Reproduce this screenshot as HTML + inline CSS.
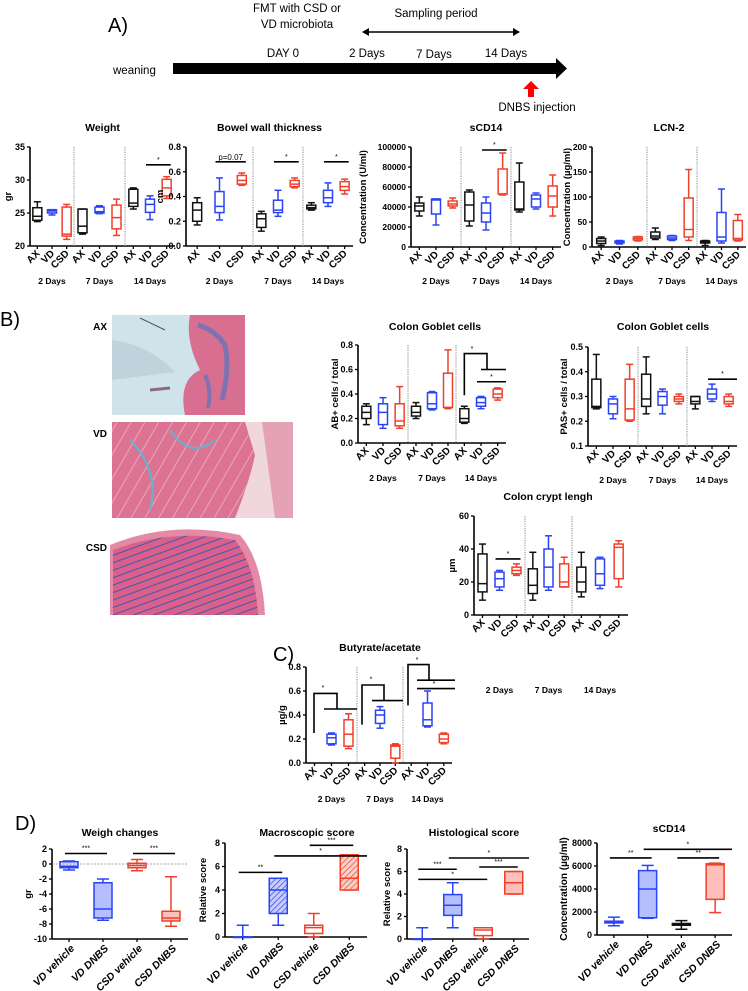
<!DOCTYPE html>
<html><head><meta charset="utf-8"><style>
html,body{margin:0;padding:0;background:#fff;}
svg{display:block;font-family:"Liberation Sans",Arial,sans-serif;}
</style></head><body>
<svg id="fig" width="748" height="991" viewBox="0 0 748 991" xmlns="http://www.w3.org/2000/svg">
<defs>
<pattern id="hatchB" patternUnits="userSpaceOnUse" width="4" height="4" patternTransform="rotate(45)"><rect width="4" height="4" fill="#c8cdfa"/><line x1="0" y1="0" x2="0" y2="4" stroke="#3a4cf0" stroke-width="1.5"/></pattern>
<pattern id="hatchR" patternUnits="userSpaceOnUse" width="4" height="4" patternTransform="rotate(45)"><rect width="4" height="4" fill="#fbd0cb"/><line x1="0" y1="0" x2="0" y2="4" stroke="#ef4a35" stroke-width="1.5"/></pattern>
<pattern id="stripeCSD" patternUnits="userSpaceOnUse" width="7" height="7" patternTransform="rotate(70)"><rect width="7" height="7" fill="#d8608a"/><line x1="0" y1="0" x2="0" y2="7" stroke="#3f57b0" stroke-width="2"/></pattern>
<pattern id="stripeVD" patternUnits="userSpaceOnUse" width="12" height="12" patternTransform="rotate(30)"><rect width="12" height="12" fill="#dc7393"/><line x1="0" y1="0" x2="0" y2="12" stroke="#e9a6b8" stroke-width="2"/></pattern>
</defs>

<!-- Panel A timeline -->
<g>
<text x="108" y="32" font-size="20">A)</text>
<text x="297" y="12" font-size="11.5" text-anchor="middle">FMT with CSD or</text>
<text x="297" y="28" font-size="11.5" text-anchor="middle">VD microbiota</text>
<text x="436" y="17" font-size="11.5" text-anchor="middle">Sampling period</text>
<line x1="366" y1="32" x2="516" y2="32" stroke="#000" stroke-width="1.5"/>
<polygon points="362,32 369,28 369,36" fill="#000"/><polygon points="520,32 513,28 513,36" fill="#000"/>
<text x="283" y="57" font-size="11.5" text-anchor="middle">DAY 0</text>
<text x="367" y="57" font-size="11.5" text-anchor="middle">2 Days</text>
<text x="434" y="58" font-size="11.5" text-anchor="middle">7 Days</text>
<text x="506" y="57" font-size="11.5" text-anchor="middle">14 Days</text>
<text x="113" y="74" font-size="11.5">weaning</text>
<rect x="173" y="63" width="386" height="11" fill="#000"/>
<polygon points="556,58 567,68.5 556,79" fill="#000"/>
<polygon points="523,89 531,81 539,89 534,89 534,97 528,97 528,89" fill="#f00"/>
<text x="537" y="111" font-size="11.5" text-anchor="middle">DNBS injection</text>
</g>

<!-- Panel B histology -->
<text x="0" y="326" font-size="20">B)</text>
<text x="107" y="330" font-size="10" font-weight="bold" text-anchor="end">AX</text>
<text x="107" y="437" font-size="10" font-weight="bold" text-anchor="end">VD</text>
<text x="107" y="551" font-size="10" font-weight="bold" text-anchor="end">CSD</text>
<g>
<rect x="112" y="315" width="133" height="100" fill="#cfe4ea"/>
<path d="M112,340 Q150,345 175,372 L112,380Z" fill="#b9ccd6" opacity="0.7"/>
<path d="M190,315 L245,315 L245,415 L185,415 Q178,380 200,370 Q185,340 190,315Z" fill="#d86f90"/>
<path d="M198,325 Q215,330 225,345 Q230,370 222,400" stroke="#5a74c0" stroke-width="5" fill="none" opacity="0.7"/>
<path d="M205,375 Q212,390 208,408" stroke="#5a74c0" stroke-width="4" fill="none" opacity="0.7"/>
<line x1="140" y1="318" x2="165" y2="330" stroke="#556" stroke-width="1"/>
<line x1="150" y1="390" x2="170" y2="388" stroke="#8a6a80" stroke-width="3"/>
</g>
<g>
<rect x="112" y="422" width="181" height="96" fill="url(#stripeVD)"/>
<path d="M245,422 L293,422 L293,518 L235,518 Q250,480 255,455Z" fill="#f0d7de"/>
<path d="M262,422 L293,422 L293,518 L275,518Z" fill="#e6a2b5"/>
<path d="M130,440 Q160,470 150,510 M170,430 Q190,460 215,440" stroke="#5fb6d3" stroke-width="2" fill="none"/>
</g>
<g>
<rect x="110" y="528" width="170" height="87" fill="#fff"/>
<path d="M110,545 Q170,520 240,535 Q262,560 265,615 L110,615Z" fill="#e58aa5"/>
<path d="M113,550 Q170,528 235,540 Q255,565 258,615 L113,615Z" fill="url(#stripeCSD)"/>
</g>

<text x="273" y="661" font-size="20">C)</text>
<text x="15" y="830" font-size="20">D)</text>

<g id="charts"></g>
</svg>

<script>
// ---------- DATA ----------
const abGroupNames = ['AX','VD','CSD','AX','VD','CSD','AX','VD','CSD'];
const dayLabels = ['2 Days','7 Days','14 Days'];
const dGroupNames = ['VD vehicle','VD DNBS','CSD vehicle','CSD DNBS'];
const dGroupNamesMacro = ['VD vehicle','VD  DNBS','CSD vehicle','CSD DNBS'];

// [min, q1, median, q3, max]
const weightStats = [[23.7,23.9,24.5,25.8,26.7],[24.7,25,25.3,25.5,25.5],[21,21.5,21.8,25.9,26.3],[21.8,22,23,25.6,25.6],[24.9,25,25.2,25.9,26.1],[21.6,22.6,24.3,26.2,27.1],[25.6,26,26.5,28.6,28.8],[24,25.1,26.3,27.1,27.6],[27.2,27.6,28.8,30.1,30.5]];
const weightTicks = [20,25,30,35];
const bowelStats = [[0.17,0.2,0.29,0.35,0.39],[0.21,0.27,0.32,0.44,0.55],[0.49,0.5,0.53,0.57,0.59],[0.12,0.15,0.22,0.26,0.28],[0.24,0.27,0.29,0.37,0.45],[0.47,0.48,0.5,0.53,0.55],[0.29,0.3,0.31,0.33,0.35],[0.32,0.35,0.39,0.45,0.51],[0.42,0.45,0.48,0.52,0.54]];
const bowelTicks = [0,0.2,0.4,0.6,0.8];
const scd14Stats = [[31000,36000,41000,44000,50000],[22000,33000,47000,48000,48000],[39000,41000,43000,46000,49000],[21000,26000,42000,55000,57000],[17000,25000,34000,44000,50000],[52000,53000,53000,78000,94000],[35000,37000,38000,65000,84000],[38000,40000,48000,52000,54000],[31000,40000,51000,61000,72000]];
const scd14Ticks = [0,20000,40000,60000,80000,100000];
const lcnStats = [[3,7,12,17,20],[6,8,10,12,13],[12,14,17,20,21],[15,18,22,30,38],[13,15,18,22,23],[13,20,35,98,155],[3,8,10,12,13],[8,12,20,69,116],[12,14,17,53,65]];
const lcnTicks = [0,50,100,150,200];
const abStats = [[0.15,0.2,0.25,0.3,0.32],[0.12,0.15,0.25,0.32,0.37],[0.12,0.14,0.18,0.32,0.46],[0.2,0.22,0.25,0.3,0.33],[0.27,0.28,0.32,0.41,0.42],[0.28,0.29,0.29,0.57,0.76],[0.16,0.17,0.2,0.28,0.3],[0.28,0.3,0.33,0.37,0.38],[0.35,0.37,0.4,0.44,0.45]];
const abTicks = [0,0.2,0.4,0.6,0.8];
const pasStats = [[0.25,0.255,0.26,0.37,0.47],[0.21,0.23,0.27,0.29,0.3],[0.2,0.205,0.25,0.37,0.43],[0.23,0.26,0.29,0.39,0.46],[0.23,0.265,0.3,0.32,0.33],[0.27,0.28,0.29,0.3,0.31],[0.25,0.27,0.28,0.3,0.3],[0.28,0.29,0.31,0.33,0.35],[0.26,0.27,0.28,0.3,0.31]];
const pasTicks = [0.1,0.2,0.3,0.4,0.5];
const cryptStats = [[9,14,19,37,43],[15,17,22,26,27],[24,25,27,29,31],[9,13,18,28,38],[15,17,29,40,48],[17,17,20,31,35],[11,14,20,29,38],[16,18,25,34,35],[17,22,41,43,45]];
const cryptTicks = [0,20,40,60];
const butStats = [null,[0.15,0.16,0.21,0.24,0.25],[0.12,0.14,0.24,0.36,0.41],null,[0.29,0.33,0.4,0.44,0.47],[0,0.04,0.14,0.15,0.16],null,[0.3,0.31,0.36,0.5,0.6],[0.16,0.17,0.2,0.24,0.25]];
const butTicks = [0,0.2,0.4,0.6,0.8];
const weighStats = [[-0.8,-0.5,-0.3,0.3,0.4],[-7.5,-7.2,-6,-2.5,-2],[-0.9,-0.5,-0.2,0.1,0.6],[-8.3,-7.6,-7.2,-6.3,-1.7]];
const weighTicks = [-10,-8,-6,-4,-2,0,2];
const macroStats = [[0,0,0,0,1],[1,2,4,5,5],[0,0.3,0.8,1,2],[4,4,5,7,7]];
const histoStats = [[0,0,0,0,1],[1,2.1,3,3.95,5],[0,0.3,0.8,1,1],[4,4,5,6,6]];
const scoreTicks = [0,2,4,6,8];
const dScdStats = [[800,1050,1150,1200,1550],[1450,1500,4000,5600,6050],[500,850,950,1000,1250],[1950,3100,6100,6200,6250]];
const dScdTicks = [0,2000,4000,6000,8000];

const C_BLK='#111', C_BLU='#2a44f5', C_RED='#f0402a';
const triColors=[C_BLK,C_BLU,C_RED,C_BLK,C_BLU,C_RED,C_BLK,C_BLU,C_RED];

// ---------- DRAWING ----------
const NS='http://www.w3.org/2000/svg';
const root=document.getElementById('charts');
function el(tag,attrs,parent,txt){const e=document.createElementNS(NS,tag);for(const k in attrs)e.setAttribute(k,attrs[k]);if(txt!==undefined)e.textContent=txt;(parent||root).appendChild(e);return e;}
function fmtTick(v,dec){return dec?v.toFixed(1):String(v);}

function drawChart(o){
  const g=el('g',{});
  
  
  const y=v=>o.yb+(v-o.vmin)/(o.vmax-o.vmin)*(o.yt-o.yb);
  let centers=[];
  if(o.dividers){
    const secs=[o.x0,...o.dividers,o.x1];
    for(let s=0;s<3;s++){const w=secs[s+1]-secs[s];for(let i=0;i<3;i++)centers.push(secs[s]+(i+0.5)*w/3);}
  } else {
    const n=o.stats.length,w=(o.x1-o.x0)/n;
    for(let i=0;i<n;i++)centers.push(o.x0+(i+0.5)*w);
  }
  const t=el('text',{x:o.titleX||(o.x0+o.x1)/2,y:o.titleY,'font-size':10.5,'font-weight':'bold','text-anchor':'middle'},g,o.title);
  
  
  const ya=el('line',{x1:o.x0,y1:o.yt,x2:o.x0,y2:o.yb,stroke:'#000','stroke-width':1.6},g);
  
  
  const xa=el('line',{x1:o.x0,y1:o.yb,x2:o.x1,y2:o.yb,stroke:'#000','stroke-width':1.6},g);
  
  
  o.ticks.forEach(v=>{
    el('line',{x1:o.x0-3,y1:y(v),x2:o.x0,y2:y(v),stroke:'#000','stroke-width':1.3},g);
    const tl=el('text',{x:o.x0-5,y:y(v)+3,'font-size':o.tickFs||9,'font-weight':'bold','text-anchor':'end'},g,fmtTick(v,o.dec));
    
    
  });
  if(o.yTitle){
    const my=(o.yt+o.yb)/2;
    const yt=el('text',{x:o.yTitleX,y:my,'font-size':o.yTitleFs||9.5,'font-weight':'bold','text-anchor':'middle',transform:`rotate(-90 ${o.yTitleX} ${my})`},g,o.yTitle);
    
    
  }
  if(o.dividers)o.dividers.forEach(d=>{el('line',{x1:d,y1:o.yt,x2:d,y2:o.yb,stroke:'#888','stroke-width':1,'stroke-dasharray':'1.2,1.2'},g);});
  if(o.zeroLine!==undefined)el('line',{x1:o.x0,y1:y(o.zeroLine),x2:o.x1,y2:y(o.zeroLine),stroke:'#888','stroke-width':0.8,'stroke-dasharray':'2,1.5'},g);
  o.stats.forEach((s,i)=>{
    const cx=centers[i];
    el('line',{x1:cx,y1:o.yb,x2:cx,y2:o.yb+3,stroke:'#000','stroke-width':1.3},g);
    if(!s)return;
    const col=o.colors[i],hw=o.boxW/2,cw=o.capW/2;
    const bg=el('g',{stroke:col,'stroke-width':1.5,fill:(o.fills&&o.fills[i])||'none'},g);
    
    
    el('line',{x1:cx,y1:y(s[0]),x2:cx,y2:y(s[1])},bg);
    el('line',{x1:cx,y1:y(s[3]),x2:cx,y2:y(s[4])},bg);
    el('line',{x1:cx-cw,y1:y(s[0]),x2:cx+cw,y2:y(s[0])},bg);
    el('line',{x1:cx-cw,y1:y(s[4]),x2:cx+cw,y2:y(s[4])},bg);
    el('rect',{x:cx-hw,y:y(s[3]),width:o.boxW,height:Math.max(0.5,y(s[1])-y(s[3]))},bg);
    el('line',{x1:cx-hw,y1:y(s[2]),x2:cx+hw,y2:y(s[2])},bg);
  });
  o.xlabels.forEach((lab,i)=>{
    const cx=centers[i]+(o.lblDx||3),ly=o.yb+(o.lblDy||8);
    const xt=el('text',{x:cx,y:ly,'font-size':o.lblFs||10,'font-weight':'bold','font-style':o.italic?'italic':'normal','text-anchor':'end',transform:`rotate(-45 ${cx} ${ly})`},g,lab);
    
    
  });
  if(o.dividers){
    dayLabels.forEach((d,k)=>{
      const dt=el('text',{x:(centers[k*3]+centers[k*3+2])/2,y:o.dayY,'font-size':8.5,'font-weight':'bold','text-anchor':'middle'},g,d);
      
      
    });
  }
  (o.sig||[]).forEach(sg=>{
    const xa_=centers[sg[0]]-4;
    const xb_=sg[1]==='end'?o.x1:centers[sg[1]]+4;
    const yy=y(sg[2]);
    const sl=el('line',{x1:xa_,y1:yy,x2:xb_,y2:yy,stroke:'#000','stroke-width':1.6},g);
    
    
    el('text',{x:(xa_+xb_)/2,y:yy-(sg[3].startsWith('p')?2:3),'font-size':sg[3].startsWith('p')?8:7,'text-anchor':'middle'},g,sg[3]);
  });
  (o.paths||[]).forEach(p=>{
    const d=p.map((pt,k)=>(k?'L':'M')+(typeof pt[0]==='number'?pt[0]:centers[pt[0][0]])+','+y(pt[1])).join(' ');
    const pe=el('path',{d:d,stroke:'#000','stroke-width':1.6,fill:'none'},g);
    
    
  });
  (o.stars||[]).forEach(s=>el('text',{x:s[0],y:y(s[1]),'font-size':7,'text-anchor':'middle'},g,s[2]));
  return centers;
}

// Panel A
drawChart({name:'weight-chart',title:'Weight',titleY:131,x0:30,x1:175,yt:147,yb:246,vmin:20,vmax:35,ticks:weightTicks,stats:weightStats,colors:triColors,boxW:9,capW:7,dividers:[74,125],xlabels:abGroupNames,dayY:284,yTitle:'gr',yTitleX:11,sig:[[7,8,32.3,'*']]});
drawChart({name:'bowel-wall-chart',title:'Bowel wall thickness',titleY:131,x0:186,x1:353,yt:147,yb:246,vmin:0,vmax:0.8,dec:true,ticks:bowelTicks,stats:bowelStats,colors:triColors,boxW:9,capW:7,dividers:[253,303],xlabels:abGroupNames,dayY:284,yTitle:'cm',yTitleX:163,sig:[[1,2,0.68,'p=0.07'],[4,5,0.68,'*'],[7,8,0.68,'*']]});
drawChart({name:'scd14-chart',title:'sCD14',titleY:131,x0:411,x1:561,yt:147,yb:247,vmin:0,vmax:100000,ticks:scd14Ticks,stats:scd14Stats,colors:triColors,boxW:9,capW:7,dividers:[461,511],xlabels:abGroupNames,dayY:284,yTitle:'Concentration (U/ml)',yTitleX:366,tickFs:8.5,sig:[[4,5,97000,'*']]});
drawChart({name:'lcn2-chart',title:'LCN-2',titleY:131,x0:592,x1:746,yt:147,yb:247,vmin:0,vmax:200,ticks:lcnTicks,stats:lcnStats,colors:triColors,boxW:9,capW:7,dividers:[647,697],xlabels:abGroupNames,dayY:284,yTitle:'Concentration (µg/ml)',yTitleX:570,tickFs:8.5});

// Panel B
drawChart({name:'ab-goblet-chart',title:'Colon Goblet cells',titleY:330,titleX:435,x0:358,x1:506,yt:345,yb:443,vmin:0,vmax:0.8,dec:true,ticks:abTicks,stats:abStats,colors:triColors,boxW:9,capW:7,dividers:[408,456],xlabels:abGroupNames,dayY:481,yTitle:'AB+ cells / total',yTitleX:338,
  paths:[[[[6],0.39],[[6],0.73],[487,0.73],[487,0.6]],[[[7],0.6],[506,0.6]]],sig:[[7,'end',0.5,'*']],stars:[[472,0.75,'*']]});
drawChart({name:'pas-goblet-chart',title:'Colon Goblet cells',titleY:330,titleX:663,x0:588,x1:737,yt:347,yb:446,vmin:0.1,vmax:0.5,dec:true,ticks:pasTicks,stats:pasStats,colors:triColors,boxW:9,capW:7,dividers:[638,687],xlabels:abGroupNames,dayY:483,yTitle:'PAS+ cells / total',yTitleX:567,sig:[[7,'end',0.37,'*']]});
drawChart({name:'crypt-length-chart',title:'Colon crypt lengh',titleY:500,titleX:548,x0:474,x1:628,yt:516,yb:615,vmin:0,vmax:60,ticks:cryptTicks,stats:cryptStats,colors:triColors,boxW:9,capW:7,dividers:[525,572],xlabels:abGroupNames,dayY:693,yTitle:'µm',yTitleX:455,sig:[[1,2,34,'*']]});

// Panel C
drawChart({name:'butyrate-chart',title:'Butyrate/acetate',titleY:651,titleX:380,x0:306,x1:452,yt:667,yb:763,vmin:0,vmax:0.8,dec:true,ticks:butTicks,stats:butStats,colors:triColors,boxW:9,capW:7,dividers:[357,403],xlabels:abGroupNames,dayY:802,yTitle:'µg/g',yTitleX:285,
  paths:[[[314,0.25],[314,0.58],[337,0.58],[337,0.45]],[[324,0.45],[357,0.45]],[[362,0.32],[362,0.65],[384,0.65],[384,0.52]],[[372,0.52],[403,0.52]],[[408,0.48],[408,0.82],[429,0.82],[429,0.69]],[[417,0.69],[455,0.69]],[[417,0.62],[455,0.62]]],
  stars:[[323,0.61,'*'],[371,0.68,'*'],[417,0.84,'*'],[434,0.64,'*']]});

// Panel D
const dBlue=['none','rgba(90,110,255,0.45)','none','rgba(255,130,120,0.5)'];
drawChart({name:'weigh-changes-chart',title:'Weigh changes',titleY:836,titleX:120,x0:52,x1:188,yt:849,yb:939,vmin:-10,vmax:2,ticks:weighTicks,stats:weighStats,colors:[C_BLU,C_BLU,C_RED,C_RED],fills:['rgba(90,110,255,0.2)','rgba(90,110,255,0.45)','rgba(255,130,120,0.3)','rgba(255,130,120,0.5)'],boxW:18,capW:12,xlabels:dGroupNames,italic:true,lblFs:10.5,lblDy:10,lblDx:6,yTitle:'gr',yTitleX:31,zeroLine:0,sig:[[0,1,1.4,'***'],[2,3,1.4,'***']]});
drawChart({name:'macroscopic-score-chart',title:'Macroscopic score',titleY:836,titleX:307,x0:225,x1:367,yt:843,yb:937,vmin:0,vmax:8,ticks:scoreTicks,stats:macroStats,colors:[C_BLU,C_BLU,C_RED,C_RED],fills:['none','url(#hatchB)','none','url(#hatchR)'],boxW:18,capW:12,xlabels:dGroupNamesMacro,italic:true,lblFs:10.5,lblDy:10,lblDx:6,yTitle:'Relative score',yTitleX:206,sig:[[0,1,5.5,'**'],[1,'end',6.9,'*'],[2,3,7.8,'***']]});
drawChart({name:'histological-score-chart',title:'Histological score',titleY:836,titleX:474,x0:407,x1:529,yt:849,yb:939,vmin:0,vmax:8,ticks:scoreTicks,stats:histoStats,colors:[C_BLU,C_BLU,C_RED,C_RED],fills:dBlue,boxW:18,capW:12,xlabels:dGroupNames,italic:true,lblFs:10.5,lblDy:10,lblDx:6,yTitle:'Relative score',yTitleX:390,sig:[[0,1,6.2,'***'],[0,2,5.3,'*'],[1,'end',7.2,'*'],[2,3,6.4,'***']]});
drawChart({name:'scd14-dnbs-chart',title:'sCD14',titleY:832,titleX:669,x0:597,x1:732,yt:843,yb:935,vmin:0,vmax:8000,ticks:dScdTicks,stats:dScdStats,colors:[C_BLU,C_BLU,C_BLK,C_RED],fills:dBlue,boxW:18,capW:12,xlabels:dGroupNames,italic:true,lblFs:10.5,lblDy:10,lblDx:6,yTitle:'Concentration (µg/ml)',yTitleX:567,yTitleFs:10,sig:[[0,1,6700,'**'],[1,'end',7450,'*'],[2,3,6700,'**']]});
</script>
</body></html>
